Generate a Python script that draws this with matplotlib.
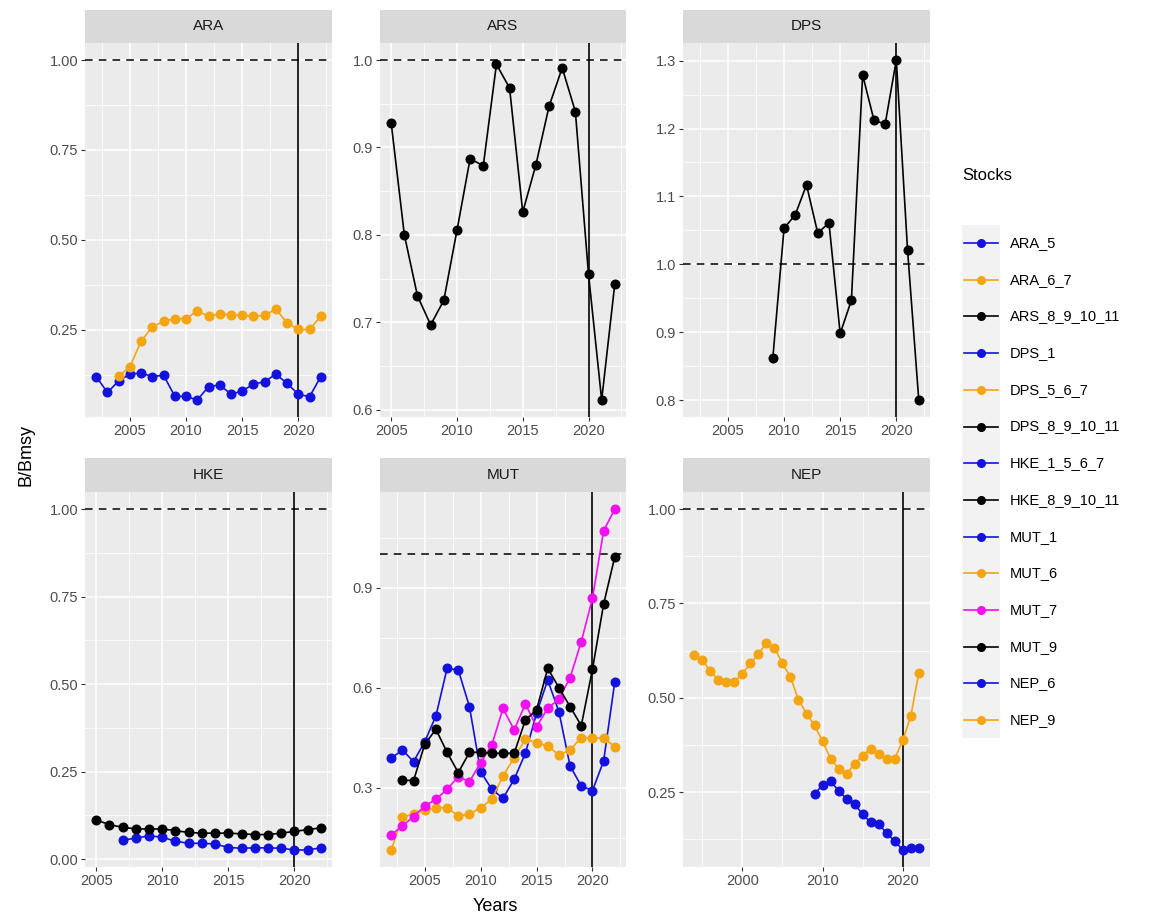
import matplotlib
matplotlib.use("Agg")
import matplotlib.pyplot as plt
from matplotlib.lines import Line2D
from matplotlib.patches import Rectangle
import numpy as np

plt.rcParams['font.family'] = ['Liberation Sans', 'DejaVu Sans']

# ---------------- data ----------------
ARA_5_years = list(range(2002, 2023))
ARA_5 = [0.120, 0.076, 0.108, 0.127, 0.130, 0.120, 0.124, 0.065, 0.065, 0.055, 0.092,
         0.097, 0.071, 0.080, 0.099, 0.106, 0.127, 0.101, 0.071, 0.064, 0.120]
ARA_6_7_years = list(range(2004, 2023))
ARA_6_7 = [0.122, 0.147, 0.219, 0.258, 0.274, 0.281, 0.281, 0.302, 0.288, 0.294, 0.292,
           0.290, 0.288, 0.290, 0.308, 0.269, 0.251, 0.251, 0.288]

ARS_years = list(range(2005, 2023))
ARS_8_9_10_11 = [0.928, 0.800, 0.730, 0.697, 0.725, 0.805, 0.887, 0.879, 0.995, 0.968,
                 0.826, 0.880, 0.947, 0.991, 0.941, 0.755, 0.611, 0.744]

DPS_years = list(range(2009, 2023))
DPS_8_9_10_11 = [0.862, 1.053, 1.073, 1.117, 1.046, 1.061, 0.898, 0.947, 1.279, 1.213,
                 1.206, 1.301, 1.021, 0.800]
DPS_year_span = [2002, 2022]

HKE_8_years = list(range(2005, 2023))
HKE_8_9_10_11 = [0.112, 0.098, 0.091, 0.086, 0.086, 0.086, 0.081, 0.076, 0.074, 0.074,
                 0.074, 0.072, 0.070, 0.070, 0.074, 0.079, 0.084, 0.089]
HKE_1_years = list(range(2007, 2023))
HKE_1_5_6_7 = [0.055, 0.059, 0.067, 0.062, 0.051, 0.045, 0.045, 0.043, 0.033, 0.031,
               0.032, 0.032, 0.031, 0.026, 0.026, 0.032]

MUT_1_years = list(range(2002, 2023))
MUT_1 = [0.388, 0.413, 0.378, 0.438, 0.515, 0.658, 0.653, 0.543, 0.348, 0.295, 0.268,
         0.325, 0.403, 0.523, 0.623, 0.528, 0.365, 0.305, 0.291, 0.380, 0.618]
MUT_6_years = list(range(2002, 2023))
MUT_6 = [0.113, 0.211, 0.222, 0.232, 0.240, 0.240, 0.215, 0.220, 0.240, 0.265, 0.335,
         0.390, 0.445, 0.435, 0.425, 0.398, 0.413, 0.450, 0.450, 0.448, 0.423]
MUT_7_years = list(range(2002, 2023))
MUT_7 = [0.158, 0.185, 0.213, 0.245, 0.265, 0.295, 0.333, 0.318, 0.375, 0.428, 0.538,
         0.473, 0.551, 0.483, 0.538, 0.566, 0.630, 0.738, 0.868, 1.071, 1.136]
MUT_9_years = list(range(2003, 2023))
MUT_9 = [0.323, 0.321, 0.430, 0.475, 0.406, 0.345, 0.406, 0.406, 0.403, 0.403, 0.403,
         0.503, 0.533, 0.658, 0.600, 0.543, 0.486, 0.655, 0.851, 0.993]

NEP_9_years = list(range(1994, 2023))
NEP_9 = [0.613, 0.600, 0.571, 0.548, 0.542, 0.542, 0.564, 0.591, 0.617, 0.644, 0.633,
         0.591, 0.555, 0.495, 0.458, 0.427, 0.385, 0.339, 0.312, 0.299, 0.325, 0.347,
         0.365, 0.352, 0.339, 0.339, 0.387, 0.451, 0.566]
NEP_6_years = list(range(2009, 2023))
NEP_6 = [0.246, 0.268, 0.279, 0.254, 0.232, 0.219, 0.191, 0.170, 0.166, 0.141, 0.120,
         0.097, 0.102, 0.102]

stock_names = ["ARA_5", "ARA_6_7", "ARS_8_9_10_11", "DPS_1", "DPS_5_6_7", "DPS_8_9_10_11",
               "HKE_1_5_6_7", "HKE_8_9_10_11", "MUT_1", "MUT_6", "MUT_7", "MUT_9",
               "NEP_6", "NEP_9"]
BLUE, ORANGE, BLACK, MAGENTA = "#1212DC", "#F5A511", "black", "#F010F0"
stock_colors = [BLUE, ORANGE, BLACK, BLUE, ORANGE, BLACK, BLUE, BLACK,
                BLUE, ORANGE, MAGENTA, BLACK, BLUE, ORANGE]
color_of = dict(zip(stock_names, stock_colors))

series = {
    "ARA_5": (ARA_5_years, ARA_5), "ARA_6_7": (ARA_6_7_years, ARA_6_7),
    "ARS_8_9_10_11": (ARS_years, ARS_8_9_10_11),
    "DPS_8_9_10_11": (DPS_years, DPS_8_9_10_11),
    "HKE_1_5_6_7": (HKE_1_years, HKE_1_5_6_7), "HKE_8_9_10_11": (HKE_8_years, HKE_8_9_10_11),
    "MUT_1": (MUT_1_years, MUT_1), "MUT_6": (MUT_6_years, MUT_6),
    "MUT_7": (MUT_7_years, MUT_7), "MUT_9": (MUT_9_years, MUT_9),
    "NEP_6": (NEP_6_years, NEP_6), "NEP_9": (NEP_9_years, NEP_9),
}

species = ["ARA", "ARS", "DPS", "HKE", "MUT", "NEP"]
panel_stocks = {
    "ARA": ["ARA_5", "ARA_6_7"],
    "ARS": ["ARS_8_9_10_11"],
    "DPS": ["DPS_8_9_10_11"],
    "HKE": ["HKE_1_5_6_7", "HKE_8_9_10_11"],
    "MUT": ["MUT_1", "MUT_6", "MUT_7", "MUT_9"],
    "NEP": ["NEP_6", "NEP_9"],
}
y_ticks = {
    "ARA": [0.25, 0.50, 0.75, 1.00], "ARS": [0.6, 0.7, 0.8, 0.9, 1.0],
    "DPS": [0.8, 0.9, 1.0, 1.1, 1.2, 1.3], "HKE": [0.00, 0.25, 0.50, 0.75, 1.00],
    "MUT": [0.3, 0.6, 0.9], "NEP": [0.25, 0.50, 0.75, 1.00],
}
y_fmt = {"ARA": "{:.2f}", "ARS": "{:.1f}", "DPS": "{:.1f}", "HKE": "{:.2f}",
         "MUT": "{:.1f}", "NEP": "{:.2f}"}
x_ticks = {"ARA": [2005, 2010, 2015, 2020], "ARS": [2005, 2010, 2015, 2020],
           "DPS": [2005, 2010, 2015, 2020], "HKE": [2005, 2010, 2015, 2020],
           "MUT": [2005, 2010, 2015, 2020], "NEP": [2000, 2010, 2020]}
ref_year = 2020
ref_level = 1.0

# ---------------- layout (pixels) ----------------
W, H = 1153, 921
fig = plt.figure(figsize=(W / 100, H / 100), dpi=100)
cols = [(85, 332), (380, 626), (683, 930)]
rows = [(10, 43, 417), (458, 492, 867)]  # strip top, panel top, panel bottom

PANEL_BG = "#EBEBEB"
STRIP_BG = "#D9D9D9"
TICK_COL = "#4D4D4D"


def px_axes(x0, y0, x1, y1):
    return fig.add_axes([x0 / W, 1 - y1 / H, (x1 - x0) / W, (y1 - y0) / H])


def minor_between(t, lo, hi):
    t = np.asarray(t, float)
    step = t[1] - t[0]
    m = np.arange(t[0] - step / 2, hi + step, step)
    return [v for v in m if lo <= v <= hi]


for i, sp in enumerate(species):
    r, c = divmod(i, 3)
    st, pt, pb = rows[r]
    x0, x1 = cols[c]
    ax = px_axes(x0, pt, x1, pb)
    ax.set_facecolor(PANEL_BG)
    for s in ax.spines.values():
        s.set_visible(False)

    # strip
    sax = px_axes(x0, st, x1, pt)
    sax.set_facecolor(STRIP_BG)
    sax.set_xticks([]); sax.set_yticks([])
    for s in sax.spines.values():
        s.set_visible(False)
    sax.text(0.5, 0.5, sp, ha="center", va="center", fontsize=11, color="#1A1A1A",
             transform=sax.transAxes)

    # limits (ggplot-like 5% expansion)
    xs = [yy for st_ in panel_stocks[sp] for yy in series[st_][0]]
    ys = [v for st_ in panel_stocks[sp] for v in series[st_][1]] + [ref_level]
    if sp == "DPS":
        xs = xs + DPS_year_span
    xl, xh = min(xs), max(xs)
    yl, yh = min(ys), max(ys)
    dx, dy = (xh - xl) * 0.05, (yh - yl) * 0.05
    ax.set_xlim(xl - dx, xh + dx)
    ax.set_ylim(yl - dy, yh + dy)
    lo_y, hi_y = ax.get_ylim()
    lo_x, hi_x = ax.get_xlim()

    # grid
    ax.set_xticks(x_ticks[sp])
    ax.set_yticks(y_ticks[sp])
    ax.set_xticks(minor_between(x_ticks[sp], lo_x, hi_x), minor=True)
    ax.set_yticks(minor_between(y_ticks[sp], lo_y, hi_y), minor=True)
    ax.grid(True, which="major", color="white", lw=1.1)
    ax.grid(True, which="minor", color="white", lw=0.55)
    ax.set_axisbelow(True)
    ax.set_yticklabels([y_fmt[sp].format(v) for v in y_ticks[sp]])
    ax.tick_params(which="major", length=3, width=0.8, color="#333333",
                   labelsize=10.5, labelcolor=TICK_COL, pad=2)
    ax.tick_params(which="minor", length=0)

    # reference lines
    ax.axhline(ref_level, color="black", lw=1.1, ls=(0, (5, 4)), zorder=2)
    ax.axvline(ref_year, color="black", lw=1.2, zorder=2)

    for st_ in panel_stocks[sp]:
        yrs, vals = series[st_]
        ax.plot(yrs, vals, color=color_of[st_], lw=1.2, marker="o", ms=6.2,
                zorder=3, clip_on=False)

# axis titles
fig.text(495 / W, 1 - 906 / H, "Years", ha="center", va="center", fontsize=13,
         color="black")
fig.text(26 / W, 1 - 455 / H, "B/Bmsy", ha="center", va="center", fontsize=13,
         rotation=90, color="black")

# legend
fig.text(962 / W, 1 - 176 / H, "Stocks", ha="left", va="center", fontsize=12,
         color="black")
lax = fig.add_axes([0, 0, 1, 1], facecolor="none")
lax.set_xlim(0, W); lax.set_ylim(H, 0); lax.axis("off")
top0, step = 243, 36.7
lax.add_patch(Rectangle((962, top0 - step / 2), 38, step * len(stock_names),
                        facecolor="#F2F2F2", edgecolor="none"))
for k, (nm, col) in enumerate(zip(stock_names, stock_colors)):
    yk = top0 + k * step
    lax.add_line(Line2D([964, 998], [yk, yk], color=col, lw=1.2))
    lax.add_line(Line2D([981], [yk], color=col, marker="o", ms=5.5, lw=0))
    lax.text(1010, yk, nm, ha="left", va="center", fontsize=10.5, color="black")

fig.savefig("out.png", dpi=100, facecolor="white")
